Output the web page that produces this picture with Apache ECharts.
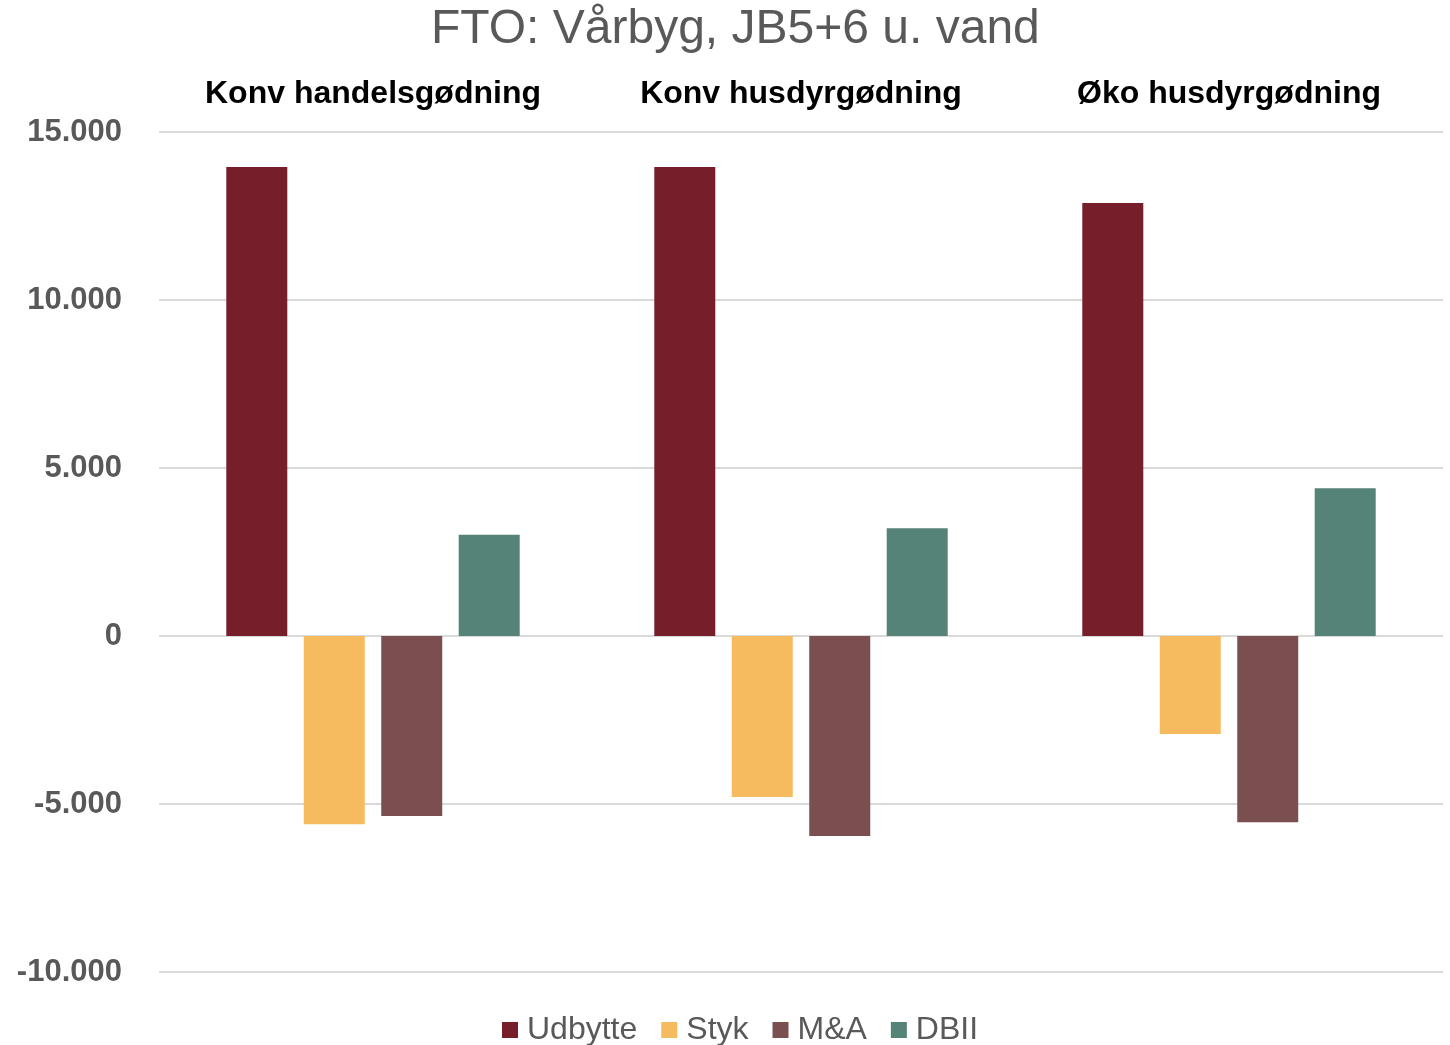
<!DOCTYPE html>
<html>
<head>
<meta charset="utf-8">
<script src="https://cdn.jsdelivr.net/npm/echarts@6/dist/echarts.min.js"></script>
<style>html,body{margin:0;padding:0;background:#fff}#c{width:1450px;height:1045px}</style>
</head>
<body>
<div id="c"></div>
<script>
const categories = ["Konv handelsgødning", "Konv husdyrgødning", "Øko husdyrgødning"];
const seriesNames = ["Udbytte", "Styk", "M&A", "DBII"];
const udbytte = [13960, 13960, 12890];
const styk = [-5600, -4790, -2920];
const mA = [-5360, -5950, -5540];
const dbii = [3010, 3210, 4400];
const colors = ["#761F2A", "#F7BB5F", "#7B4E4F", "#568377"];
const yTicks = { min: -10000, max: 15000, interval: 5000 };

function fmt(v) {
  const s = Math.abs(v).toString().replace(/\B(?=(\d{3})+(?!\d))/g, ".");
  return (v < 0 ? "-" : "") + s;
}

const values = [udbytte, styk, mA, dbii];
const chart = echarts.init(document.getElementById('c'), null, { renderer: 'canvas' });
chart.setOption({
  animation: false,
  backgroundColor: '#fff',
  title: {
    text: 'FTO: Vårbyg, JB5+6 u. vand',
    left: 426,
    top: 1,
    textStyle: { fontFamily: 'Liberation Sans, Arial', fontSize: 48, fontWeight: 'normal', color: '#595959' }
  },
  legend: {
    data: seriesNames,
    bottom: -6,
    left: 497,
    itemWidth: 16,
    itemHeight: 16,
    itemGap: 24,
    icon: 'rect',
    textStyle: { fontFamily: 'Liberation Sans, Arial', fontSize: 32, color: '#595959', padding: [0, 0, 0, 4] }
  },
  grid: { left: 159, right: 7, top: 132, bottom: 73, containLabel: false },
  xAxis: {
    type: 'category',
    position: 'top',
    data: categories,
    axisLine: { show: false },
    axisTick: { show: false },
    axisLabel: {
      interval: 0,
      margin: 22,
      fontFamily: 'Liberation Sans, Arial',
      fontSize: 32,
      fontWeight: 'bold',
      color: '#000'
    }
  },
  yAxis: {
    type: 'value',
    min: yTicks.min,
    max: yTicks.max,
    interval: yTicks.interval,
    axisLine: { show: false },
    axisTick: { show: false },
    splitLine: { lineStyle: { color: '#D9D9D9', width: 2 } },
    axisLabel: {
      margin: 37,
      formatter: fmt,
      fontFamily: 'Liberation Sans, Arial',
      fontSize: 31,
      fontWeight: 'bold',
      color: '#595959'
    }
  },
  series: seriesNames.map((name, i) => ({
    name: name,
    type: 'bar',
    data: values[i],
    barWidth: 61,
    barGap: '27%',
    itemStyle: { color: colors[i] }
  }))
});
</script>
</body>
</html>
